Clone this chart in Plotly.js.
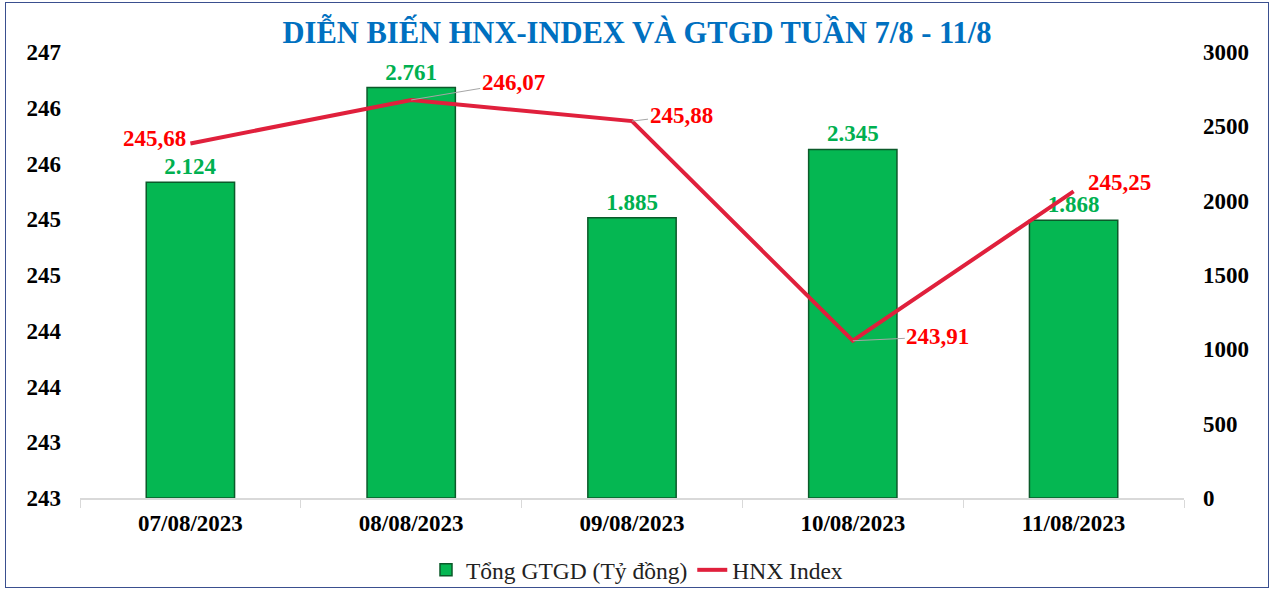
<!DOCTYPE html>
<html>
<head>
<meta charset="utf-8">
<script src="https://cdn.plot.ly/plotly-3.0.1.min.js"></script>
<style>
  html, body { margin: 0; padding: 0; background: #fff; }
  #frame {
    position: absolute; left: 5px; top: 2px;
    width: 1262px; height: 584px;
    border: 1px solid #3a4f8f;
  }
  #chart { width: 1262px; height: 584px; }
</style>
</head>
<body>
<div id="frame"><div id="chart"></div></div>
<script>
// data
var days = ['07/08/2023', '08/08/2023', '09/08/2023', '10/08/2023', '11/08/2023']
var gtgd = [2124, 2761, 1885, 2345, 1868]          // Tổng GTGD (Tỷ đồng)
var hnx = [245.68, 246.07, 245.88, 243.91, 245.25]  // HNX Index
var hnxTickVals = [242.5, 243, 243.5, 244, 244.5, 245, 245.5, 246, 246.5]
var hnxTickText = ['243', '243', '244', '244', '245', '245', '246', '246', '247']
var gtgdTickVals = [0, 500, 1000, 1500, 2000, 2500, 3000]

// where each index label sits, in px from its point (ax, ay), and if it has a leader
var labelOffsets = [[-36, -5], [102, -17], [49, -6], [85, -4], [46, -9]]
var labelLeader = [false, true, true, true, false]

var serif = "'Liberation Serif', 'Times New Roman', serif"

var bars = {
    x: days,
    y: gtgd,
    type: 'bar',
    name: 'Tổng GTGD (Tỷ đồng)',
    yaxis: 'y',
    width: 0.4,
    marker: {
        color: '#05b752',
        line: { color: '#0b5a2a', width: 1.5 }
    },
    text: gtgd.map(function (v) { return v.toLocaleString('de-DE') }),
    textposition: 'outside',
    constraintext: 'none',
    cliponaxis: false,
    textfont: { family: serif, size: 23, color: '#00b050', weight: 'bold' },
    hoverinfo: 'skip'
}

var line = {
    x: days,
    y: hnx,
    type: 'scatter',
    mode: 'lines',
    name: 'HNX Index',
    yaxis: 'y2',
    line: { color: '#e0203c', width: 4 },
    hoverinfo: 'skip'
}

var annotations = hnx.map(function (v, i) {
    return {
        x: days[i],
        y: v,
        xref: 'x',
        yref: 'y2',
        text: v.toFixed(2).replace('.', ','),
        showarrow: true,
        arrowhead: 0,
        arrowwidth: 1,
        arrowcolor: labelLeader[i] ? '#a6a6a6' : 'rgba(0,0,0,0)',
        standoff: 0,
        ax: labelOffsets[i][0],
        ay: labelOffsets[i][1],
        font: { family: serif, size: 23, color: '#ff0000', weight: 'bold' }
    }
})

var layout = {
    width: 1262,
    height: 584,
    margin: { l: 74, r: 84, t: 49, b: 89 },
    paper_bgcolor: '#ffffff',
    plot_bgcolor: '#ffffff',
    font: { family: serif, color: '#000' },
    showlegend: true,
    title: {
        text: 'DIỄN BIẾN HNX-INDEX VÀ GTGD TUẦN 7/8 - 11/8',
        font: { family: serif, size: 30.5, color: '#0070c0', weight: 'bold' },
        xref: 'container',
        yref: 'container',
        x: 0.5,
        xanchor: 'center',
        y: 0.95,
        yanchor: 'middle'
    },
    xaxis: {
        type: 'category',
        showgrid: false,
        showline: true,
        linecolor: '#d9d9d9',
        linewidth: 1.5,
        ticks: 'outside',
        tickson: 'boundaries',
        ticklen: 8,
        tickcolor: '#d9d9d9',
        ticklabelstandoff: 4,
        tickfont: { family: serif, size: 23, color: '#000', weight: 'bold' },
        fixedrange: true
    },
    yaxis: {
        side: 'right',
        range: [0, 3000],
        tickvals: gtgdTickVals,
        showgrid: false,
        zeroline: false,
        showline: false,
        ticks: '',
        ticklabelstandoff: 18,
        tickfont: { family: serif, size: 23, color: '#000', weight: 'bold' },
        fixedrange: true
    },
    yaxis2: {
        overlaying: 'y',
        side: 'left',
        range: [242.5, 246.5],
        tickvals: hnxTickVals,
        ticktext: hnxTickText,
        showgrid: false,
        zeroline: false,
        showline: false,
        ticks: '',
        ticklabelstandoff: 18,
        tickfont: { family: serif, size: 23, color: '#000', weight: 'bold' },
        fixedrange: true
    },
    legend: {
        orientation: 'h',
        xref: 'container',
        yref: 'container',
        x: 0.5,
        xanchor: 'center',
        y: 0.029,
        yanchor: 'middle',
        font: { family: serif, size: 23.5, color: '#222' },
        itemwidth: 30
    },
    annotations: annotations
}

Plotly.newPlot('chart', [bars, line], layout, {
    displayModeBar: false,
    staticPlot: true
})
</script>
</body>
</html>
